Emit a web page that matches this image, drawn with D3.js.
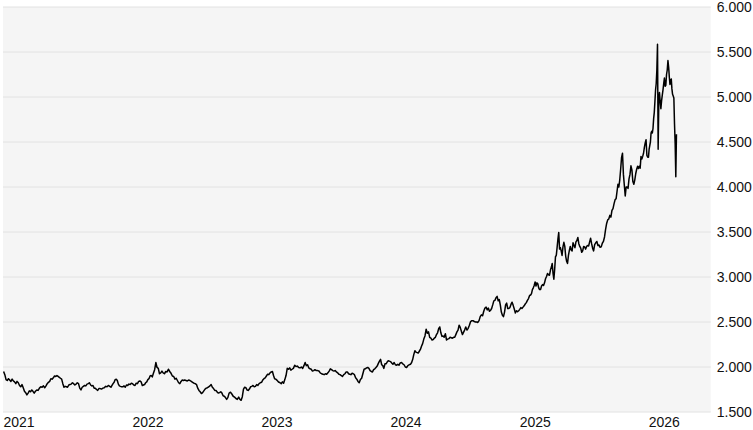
<!DOCTYPE html>
<html>
<head>
<meta charset="utf-8">
<script src="https://cdn.jsdelivr.net/npm/d3@7"></script>
<style>
  body { margin: 0; background: #fff; }
  svg { display: block; font-family: "Liberation Sans", Arial, sans-serif; }
</style>
</head>
<body>
<svg id="chart" width="753" height="430"></svg>
<script>

// Gold price readings, one inner list per month (Jan..Dec), a few per month

const gold2021 = [
    [1950, 1915, 1860, 1850, 1870, 1855, 1840, 1865, 1845],
    [1835, 1815, 1840, 1825, 1795, 1780, 1805, 1770],
    [1730, 1715, 1690, 1710, 1735, 1725, 1745, 1730, 1710],
    [1730, 1745, 1740, 1765, 1780, 1775, 1790, 1770],
    [1790, 1815, 1830, 1840, 1870, 1865, 1880, 1900, 1895],
    [1905, 1895, 1885, 1875, 1865, 1815, 1775, 1785, 1780],
    [1775, 1800, 1805, 1810, 1825, 1815, 1800, 1810, 1825],
    [1815, 1765, 1745, 1775, 1785, 1795, 1790, 1810, 1815],
    [1825, 1800, 1790, 1795, 1765, 1765, 1750, 1740, 1760],
    [1760, 1755, 1765, 1770, 1785, 1780, 1795, 1785],
    [1775, 1795, 1815, 1830, 1860, 1865, 1850, 1810, 1790, 1785],
    [1780, 1780, 1790, 1775, 1800, 1795, 1810, 1805, 1820]
];

const gold2022 = [
    [1815, 1800, 1795, 1820, 1815, 1840, 1845, 1835, 1795],
    [1800, 1805, 1825, 1835, 1860, 1870, 1900, 1905, 1890],
    [1930, 1970, 2050, 1995, 1985, 1925, 1935, 1955, 1935],
    [1925, 1950, 1945, 1975, 1950, 1930, 1900, 1895],
    [1865, 1875, 1850, 1825, 1815, 1840, 1855, 1850, 1855],
    [1850, 1845, 1855, 1850, 1840, 1830, 1820, 1815],
    [1805, 1765, 1740, 1725, 1705, 1715, 1735, 1755, 1765],
    [1770, 1780, 1790, 1805, 1775, 1760, 1740, 1740, 1720],
    [1710, 1715, 1725, 1710, 1680, 1675, 1660, 1640, 1660],
    [1710, 1720, 1700, 1675, 1665, 1650, 1640, 1665],
    [1640, 1630, 1670, 1755, 1775, 1770, 1745, 1740, 1755],
    [1780, 1785, 1795, 1780, 1785, 1805, 1795, 1815, 1825]
];

const gold2023 = [
    [1830, 1855, 1870, 1880, 1900, 1920, 1915, 1935, 1945],
    [1950, 1905, 1870, 1865, 1855, 1840, 1830, 1825, 1815],
    [1835, 1820, 1860, 1905, 1985, 1975, 1990, 1965, 1975],
    [1985, 2020, 2005, 2010, 1995, 1990, 2000, 1985],
    [2015, 2050, 2015, 2025, 1990, 1980, 1975, 1955, 1960],
    [1970, 1960, 1960, 1955, 1935, 1925, 1920, 1915],
    [1925, 1920, 1935, 1955, 1980, 1970, 1960, 1955, 1960],
    [1945, 1935, 1920, 1915, 1905, 1895, 1915, 1925, 1945],
    [1945, 1925, 1920, 1915, 1930, 1925, 1915, 1880, 1865],
    [1840, 1825, 1860, 1875, 1925, 1975, 1980, 1990, 1995],
    [1985, 1960, 1950, 1945, 1970, 1980, 1995, 2010, 2040],
    [2065, 2085, 2025, 2015, 1985, 2035, 2035, 2055, 2070, 2065]
];

const gold2024 = [
    [2060, 2045, 2030, 2050, 2025, 2020, 2030, 2020, 2045],
    [2050, 2035, 2025, 2000, 1995, 2015, 2025, 2030],
    [2050, 2085, 2140, 2180, 2165, 2160, 2155, 2175, 2195, 2230],
    [2260, 2310, 2345, 2420, 2375, 2390, 2330, 2320, 2300],
    [2305, 2320, 2330, 2360, 2380, 2425, 2445, 2380, 2340, 2345],
    [2330, 2370, 2300, 2310, 2315, 2330, 2325, 2320, 2330],
    [2330, 2360, 2390, 2410, 2465, 2440, 2400, 2360, 2385, 2410],
    [2445, 2410, 2430, 2465, 2505, 2515, 2515, 2505, 2500],
    [2500, 2495, 2515, 2560, 2580, 2570, 2620, 2655, 2665],
    [2635, 2655, 2620, 2630, 2650, 2690, 2735, 2740, 2770, 2785],
    [2735, 2750, 2690, 2610, 2575, 2560, 2610, 2690, 2710, 2650],
    [2650, 2660, 2695, 2720, 2685, 2645, 2600, 2625, 2615, 2625]
];

const gold2025 = [
    [2640, 2660, 2650, 2665, 2680, 2700, 2715, 2740, 2760, 2795],
    [2800, 2815, 2860, 2880, 2905, 2945, 2900, 2935, 2925, 2880, 2860],
    [2860, 2900, 2915, 2905, 2935, 2980, 3005, 3040, 3025, 3020, 3080],
    [3110, 3150, 3040, 2975, 3085, 3225, 3240, 3330, 3420, 3495, 3310, 3325, 3290],
    [3240, 3335, 3385, 3340, 3230, 3175, 3150, 3240, 3295, 3340, 3300, 3290],
    [3380, 3350, 3325, 3390, 3405, 3440, 3370, 3340, 3320, 3275, 3290],
    [3340, 3335, 3310, 3340, 3350, 3345, 3390, 3430, 3370, 3320, 3290],
    [3360, 3380, 3395, 3350, 3355, 3330, 3335, 3375, 3395, 3445],
    [3530, 3595, 3635, 3645, 3685, 3665, 3740, 3760, 3815, 3860],
    [3870, 3950, 4030, 4000, 4080, 4200, 4330, 4375, 4140, 4020, 3900, 4000],
    [4000, 3985, 4090, 4140, 4235, 4190, 4060, 4030, 4080, 4150, 4200],
    [4230, 4205, 4230, 4210, 4340, 4310, 4340, 4375, 4440, 4490, 4525, 4350, 4330]
];

const gold2026 = [
    [4330, 4420, 4460, 4500, 4600, 4620, 4600, 4650, 4760, 4830, 4950, 5080, 5150, 5300, 5585, 4420, 4950],
    [5050, 4950, 4870, 4960, 5020, 5080, 5150, 5210, 5120, 5130, 5250, 5300, 5405, 5330],
    [5220, 5140, 5180, 5200, 5090, 5030, 5010, 4990, 4700, 4480, 4115, 4585]
];

const dataEnd = new Date(2026, 2, 23);
const yearTicks = [2021, 2022, 2023, 2024, 2025, 2026];
const priceTicks = [1500, 2000, 2500, 3000, 3500, 4000, 4500, 5000, 5500, 6000];


// Flatten month blocks into dated points

let series = [];
[[2021, gold2021], [2022, gold2022], [2023, gold2023],
 [2024, gold2024], [2025, gold2025], [2026, gold2026]].forEach(([year, months]) => {
    months.forEach((vals, m) => {
        let start = new Date(year, m, 1);
        let end = d3.min([new Date(year, m + 1, 1), dataEnd]);
        vals.forEach((v, i) => {
            series.push({
                date: new Date(+start + (end - start) * (i + 0.5) / vals.length),
                value: v
            });
        });
    });
});


let svg = d3.select("#chart");

let plotLeft = 3, plotRight = 710.7, plotTop = 7, plotBottom = 412;

let x = d3.scaleTime()
    .domain([new Date(2021, 0, 1), new Date(2026, 5, 27)])
    .range([plotLeft, plotRight]);

let y = d3.scaleLinear()
    .domain([1500, 6000])
    .range([plotBottom, plotTop]);

let de = d3.formatLocale({ decimal: ",", thousands: ".", grouping: [3], currency: ["", " €"] });
let fmt = de.format(",d");

// panel
svg.append("rect")
    .attr("x", plotLeft)
    .attr("y", plotTop)
    .attr("width", plotRight - plotLeft)
    .attr("height", plotBottom - plotTop)
    .attr("fill", "#f5f5f5");

// gridlines
svg.append("g")
    .selectAll("line")
    .data(priceTicks)
    .enter()
    .append("line")
    .attr("x1", plotLeft)
    .attr("x2", plotRight)
    .attr("y1", d => y(d))
    .attr("y2", d => y(d))
    .attr("stroke", "#e2e2e2")
    .attr("stroke-width", 1);

// y axis on the right
let yAxis = svg.append("g")
    .attr("transform", `translate(${plotRight},0)`)
    .call(d3.axisRight(y).tickValues(priceTicks).tickSize(0).tickPadding(6).tickFormat(fmt));
yAxis.select(".domain").remove();

// x axis
let xAxis = svg.append("g")
    .attr("transform", `translate(0,${plotBottom})`)
    .call(d3.axisBottom(x)
        .tickValues(yearTicks.map(yr => new Date(yr, 0, 1)))
        .tickSize(0)
        .tickPadding(5)
        .tickFormat(d3.timeFormat("%Y")));
xAxis.select(".domain").remove();
xAxis.selectAll("text").attr("text-anchor", "start");

svg.selectAll(".tick text")
    .attr("font-family", '"Liberation Sans", Arial, sans-serif')
    .attr("font-size", 14)
    .attr("fill", "#111");

// price line
svg.append("path")
    .datum(series)
    .attr("fill", "none")
    .attr("stroke", "#000")
    .attr("stroke-width", 1.5)
    .attr("stroke-linejoin", "round")
    .attr("d", d3.line().x(d => x(d.date)).y(d => y(d.value)));

</script>
</body>
</html>
